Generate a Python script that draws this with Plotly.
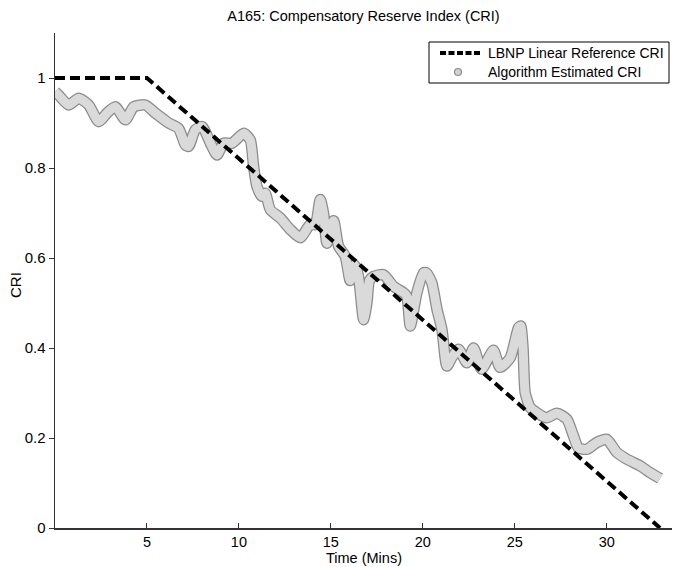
import plotly.graph_objects as go

# ---- data ----
ref_time = [0, 5, 32.9]
ref_cri = [1.0, 1.0, 0.0]

est_time = [0.0, 0.2, 0.74, 1.29, 1.83, 2.38, 2.83, 3.28, 3.83, 4.28, 4.91, 5.46,
            6.18, 6.72, 7.09, 7.27, 7.63, 8.0, 8.45, 8.81, 9.17, 9.62, 10.26, 10.62,
            10.8, 10.98, 11.25, 11.43, 11.71, 12.25, 12.8, 13.34, 13.88, 14.15, 14.42,
            14.6, 14.79, 15.15, 15.42, 15.78, 16.05, 16.3, 16.5, 16.78, 16.96, 17.1,
            17.32, 17.86, 18.41, 18.95, 19.13, 19.32, 19.68, 20.04, 20.2, 20.49, 20.77,
            21.04, 21.31, 21.6, 21.94, 22.4, 22.76, 23.2, 23.84, 24.2, 24.75, 25.2,
            25.32, 25.45, 25.57, 25.84, 26.2, 26.74, 27.29, 27.83, 28.19, 28.46, 28.92,
            29.46, 30.0, 30.55, 31.09, 31.82, 32.36, 32.9]
est_cri = [0.970, 0.962, 0.940, 0.955, 0.940, 0.903, 0.922, 0.936, 0.907, 0.936, 0.940, 0.922,
           0.900, 0.888, 0.851, 0.848, 0.885, 0.892, 0.855, 0.829, 0.855, 0.855, 0.877, 0.862,
           0.803, 0.759, 0.737, 0.744, 0.707, 0.689, 0.663, 0.645, 0.675, 0.674, 0.730,
           0.700, 0.633, 0.683, 0.626, 0.604, 0.550, 0.585, 0.560, 0.463, 0.500, 0.550,
           0.559, 0.563, 0.537, 0.523, 0.515, 0.449, 0.523, 0.567, 0.567, 0.545, 0.486,
           0.441, 0.360, 0.380, 0.397, 0.367, 0.400, 0.353, 0.395, 0.357, 0.378, 0.445,
           0.449, 0.400, 0.300, 0.268, 0.256, 0.245, 0.255, 0.242, 0.205, 0.178, 0.175,
           0.190, 0.197, 0.168, 0.153, 0.138, 0.123, 0.110]

x_ticks = [5, 10, 15, 20, 25, 30]
y_ticks = [0, 0.2, 0.4, 0.6, 0.8, 1]
y_tick_labels = ["0", "0.2", "0.4", "0.6", "0.8", "1"]

legend_names = ["LBNP Linear Reference CRI", "Algorithm Estimated CRI"]

FONT = "Liberation Sans, Arial, sans-serif"

W, H = 673, 567
L, R, T, B = 55, 672, 33, 528


def px(x):
    return (x - L) / (R - L)


def py(y):
    return (B - y) / (B - T)


fig = go.Figure()

# thick grey band (outline + light fill)
fig.add_trace(go.Scatter(x=est_time, y=est_cri, mode="lines", name=legend_names[1],
                         line=dict(color="#8c8c8c", width=11.5, shape="spline", smoothing=0.6),
                         showlegend=False, hoverinfo="skip"))
fig.add_trace(go.Scatter(x=est_time, y=est_cri, mode="lines", name=legend_names[1],
                         line=dict(color="#dadada", width=9, shape="spline", smoothing=0.6),
                         showlegend=False, hoverinfo="skip"))

fig.add_trace(go.Scatter(x=ref_time, y=ref_cri, mode="lines", name=legend_names[0],
                         line=dict(color="black", width=4, dash="10px,5px"),
                         showlegend=False))

shapes = [
    # legend box
    dict(type="rect", xref="paper", yref="paper", x0=px(429), x1=px(669),
         y0=py(83), y1=py(42), line=dict(color="black", width=1), fillcolor="white",
         layer="above"),
    # dashed sample
    dict(type="line", xref="paper", yref="paper", x0=px(440), x1=px(481),
         y0=py(53), y1=py(53), line=dict(color="black", width=4, dash="6px,2.5px"),
         layer="above"),
    # circle sample
    dict(type="circle", xref="paper", yref="paper", xsizemode="pixel", ysizemode="pixel",
         xanchor=px(458), yanchor=py(72), x0=-3.5, x1=3.5, y0=-3.5, y1=3.5,
         fillcolor="#d0d0d0", line=dict(color="#8c8c8c", width=1.2), layer="above"),
]

annotations = [
    dict(text=legend_names[0], x=px(486), y=py(53), xref="paper", yref="paper",
         xanchor="left", yanchor="middle", showarrow=False,
         font=dict(family=FONT, size=14, color="black")),
    dict(text=legend_names[1], x=px(486), y=py(72), xref="paper", yref="paper",
         xanchor="left", yanchor="middle", showarrow=False,
         font=dict(family=FONT, size=14, color="black")),
    dict(text="Time (Mins)", x=0.5, xref="paper", y=py(558), yref="paper",
         xanchor="center", yanchor="middle", showarrow=False,
         font=dict(family=FONT, size=14.5, color="black")),
    dict(text="CRI", x=px(15), xref="paper", y=py(285), yref="paper",
         xanchor="center", yanchor="middle", showarrow=False, textangle=-90,
         font=dict(family=FONT, size=15, color="black")),
]

fig.update_layout(
    width=W, height=H,
    margin=dict(l=L, r=W - R, t=T, b=H - B),
    paper_bgcolor="white", plot_bgcolor="white",
    font=dict(family=FONT, color="black", size=14),
    title=dict(text="A165: Compensatory Reserve Index (CRI)", x=0.5, xref="paper",
               xanchor="center", y=1 - 16 / H, yref="container", yanchor="middle",
               font=dict(family=FONT, size=14.5, color="black")),
    showlegend=False,
    xaxis=dict(range=[0, 33.55], tickmode="array", tickvals=x_ticks,
               showgrid=False, zeroline=False, showline=True, linecolor="#333333",
               linewidth=1.5, ticks="inside", ticklen=5, tickcolor="#333333",
               tickfont=dict(family=FONT, size=14.5), automargin=False),
    yaxis=dict(range=[0, 1.1], tickmode="array", tickvals=y_ticks, ticktext=y_tick_labels,
               showgrid=False, zeroline=False, showline=True, linecolor="#333333",
               linewidth=1.5, ticks="outside", ticklen=5, tickcolor="#333333",
               tickfont=dict(family=FONT, size=15), automargin=False),
    shapes=shapes,
    annotations=annotations,
)

fig.write_html("out.html",
               config={"displayModeBar": False, "staticPlot": True},
               post_script="document.body.style.margin='0px';document.body.style.padding='0px';")
